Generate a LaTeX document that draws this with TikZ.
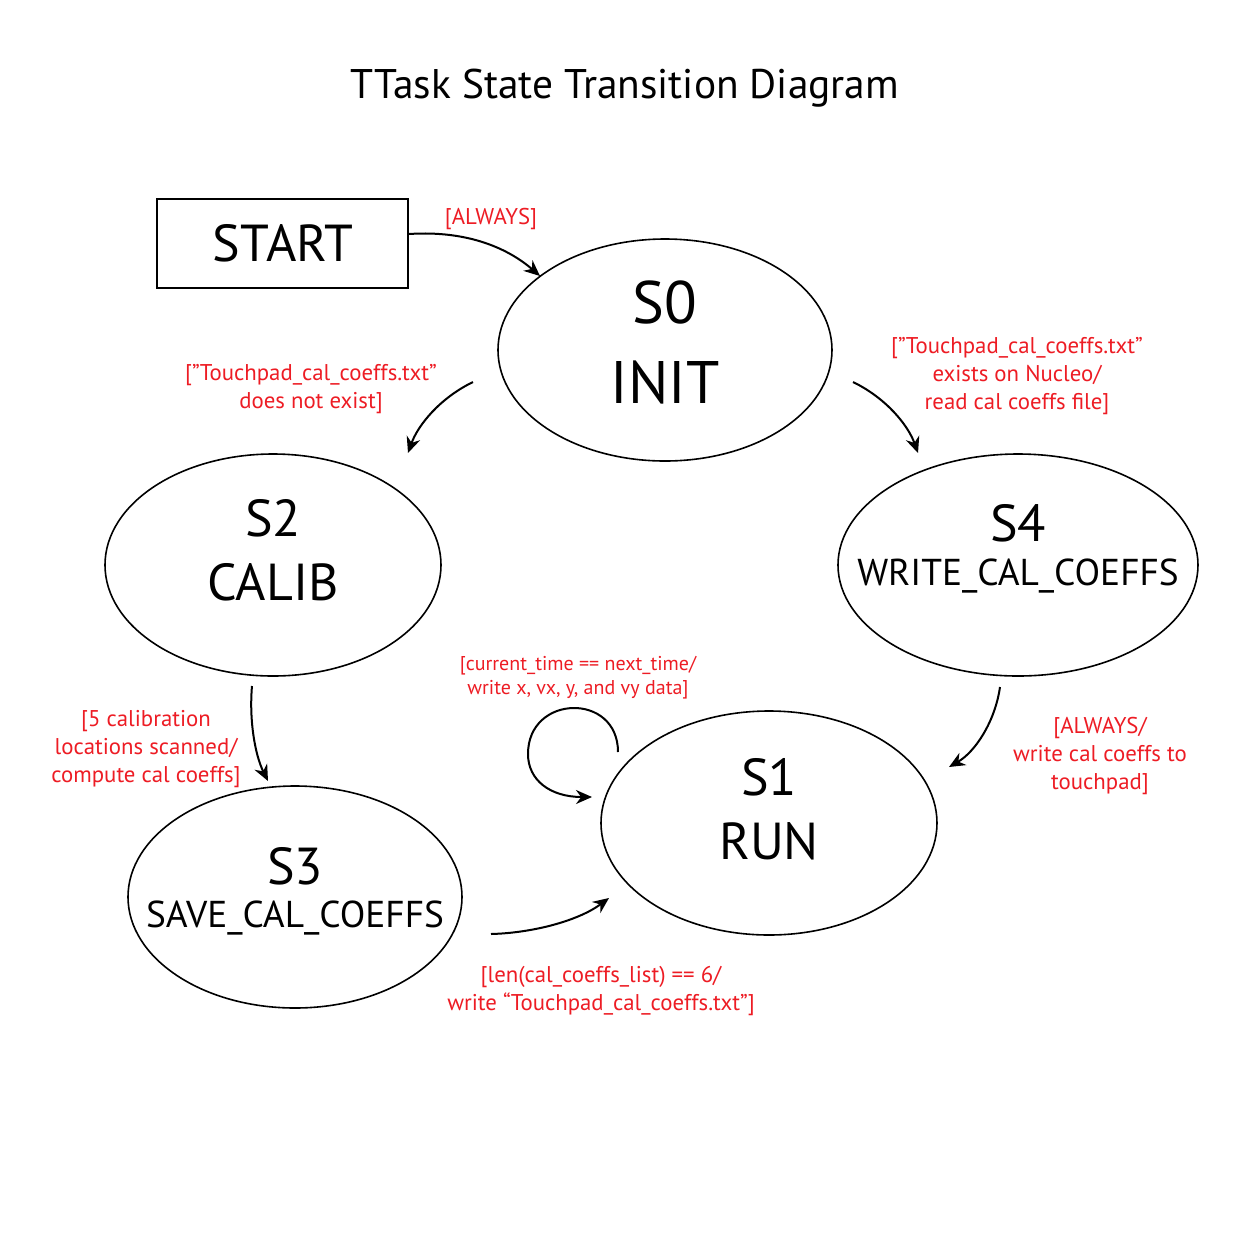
\documentclass[tikz,border=0pt]{standalone}
\usepackage{fontspec}
\setmainfont{PT Sans}
\usetikzlibrary{shapes.geometric,arrows.meta}
\definecolor{lblred}{RGB}{237,28,36}
\begin{document}
\begin{tikzpicture}[x=0.5pt,y=-0.5pt,
  state/.style={draw,ellipse,line width=0.8pt,inner sep=0pt},
  big/.style={font=\fontsize{26}{26}\selectfont},
  mid/.style={font=\fontsize{18.7}{19}\selectfont},
  lbl/.style={text=lblred,align=center,font=\fontsize{11.4}{14}\selectfont},
  slbl/.style={text=lblred,align=center,font=\fontsize{10}{12}\selectfont},
  conn/.style={line width=1pt,-{Stealth[length=8pt,width=7pt]}}]
\useasboundingbox (0,0) rectangle (1250,1250);
\node[font=\fontsize{20.7}{22}\selectfont] (title) at (625,88) {TTask State Transition Diagram};
% START box
\node[draw,line width=0.8pt,minimum width=125.5pt,minimum height=44.5pt,inner sep=0pt] (start) at (282.5,243.5) {};
\node[font=\fontsize{26}{26}\selectfont] (startt) at (283,243) {START};
% states
\node[state,minimum width=167pt,minimum height=111pt] (s0) at (665,350) {};
\node[font=\fontsize{30}{30}\selectfont] (s0a) at (665,302) {S0};
\node[font=\fontsize{30}{30}\selectfont] (s0b) at (665,382) {INIT};
\node[state,minimum width=168pt,minimum height=111pt] (s2) at (273,565) {};
\node[big] (s2a) at (273,518) {S2};
\node[big] (s2b) at (273,582) {CALIB};
\node[state,minimum width=180pt,minimum height=111pt] (s4) at (1018,565) {};
\node[big] (s4a) at (1018,523) {S4};
\node[mid] (s4b) at (1018,576) {WRITE\_CAL\_COEFFS};
\node[state,minimum width=168pt,minimum height=112pt] (s1) at (769,823) {};
\node[big] (s1a) at (769,777) {S1};
\node[big] (s1b) at (769,841) {RUN};
\node[state,minimum width=167pt,minimum height=111pt] (s3) at (295,897) {};
\node[big] (s3a) at (295,866) {S3};
\node[mid] (s3b) at (295,918) {SAVE\_CAL\_COEFFS};
% connector end points
\coordinate (a1) at (409,234); \coordinate (a2) at (540,276);
\coordinate (b1) at (473,382); \coordinate (b2) at (408,453);
\coordinate (c1) at (853,382); \coordinate (c2) at (918,453);
\coordinate (d1) at (252,686); \coordinate (d2) at (268,781);
\coordinate (e1) at (1000,687); \coordinate (e2) at (949,767);
\coordinate (f1) at (491,934); \coordinate (f2) at (609,898);
\coordinate (g1) at (618,752); \coordinate (gm) at (528,754); \coordinate (g2) at (592,797);
% connectors
\draw[conn] (a1) .. controls (470,230) and (510,250) .. (a2);
\draw[conn] (b1) .. controls (440,398) and (418,425) .. (b2);
\draw[conn] (c1) .. controls (886,398) and (908,425) .. (c2);
\draw[conn] (d1) .. controls (249,720) and (255,755) .. (d2);
\draw[conn] (e1) .. controls (995,722) and (975,752) .. (e2);
\draw[conn] (f1) .. controls (532,933) and (578,921) .. (f2);
\draw[conn] (g1) .. controls (618,692) and (528,694) .. (gm) .. controls (528,780) and (550,797) .. (g2);
% labels
\node[lbl] (la) at (491,219) {[ALWAYS]};
\node[lbl] (lb) at (311,389) {[”Touchpad\_cal\_coeffs.txt”\\does not exist]};
\node[lbl] (lc) at (1017,376) {[”Touchpad\_cal\_coeffs.txt”\\exists on Nucleo/\\read cal coeffs file]};
\node[lbl] (ld) at (146,749) {[5 calibration\\locations scanned/\\compute cal coeffs]};
\node[slbl] (lg) at (578,678) {[current\_time == next\_time/\\write x, vx, y, and vy data]};
\node[lbl] (le) at (1100,756) {[ALWAYS/\\write cal coeffs to\\touchpad]};
\node[lbl] (lf) at (601,991) {[len(cal\_coeffs\_list) == 6/\\write “Touchpad\_cal\_coeffs.txt”]};
\end{tikzpicture}
\end{document}
